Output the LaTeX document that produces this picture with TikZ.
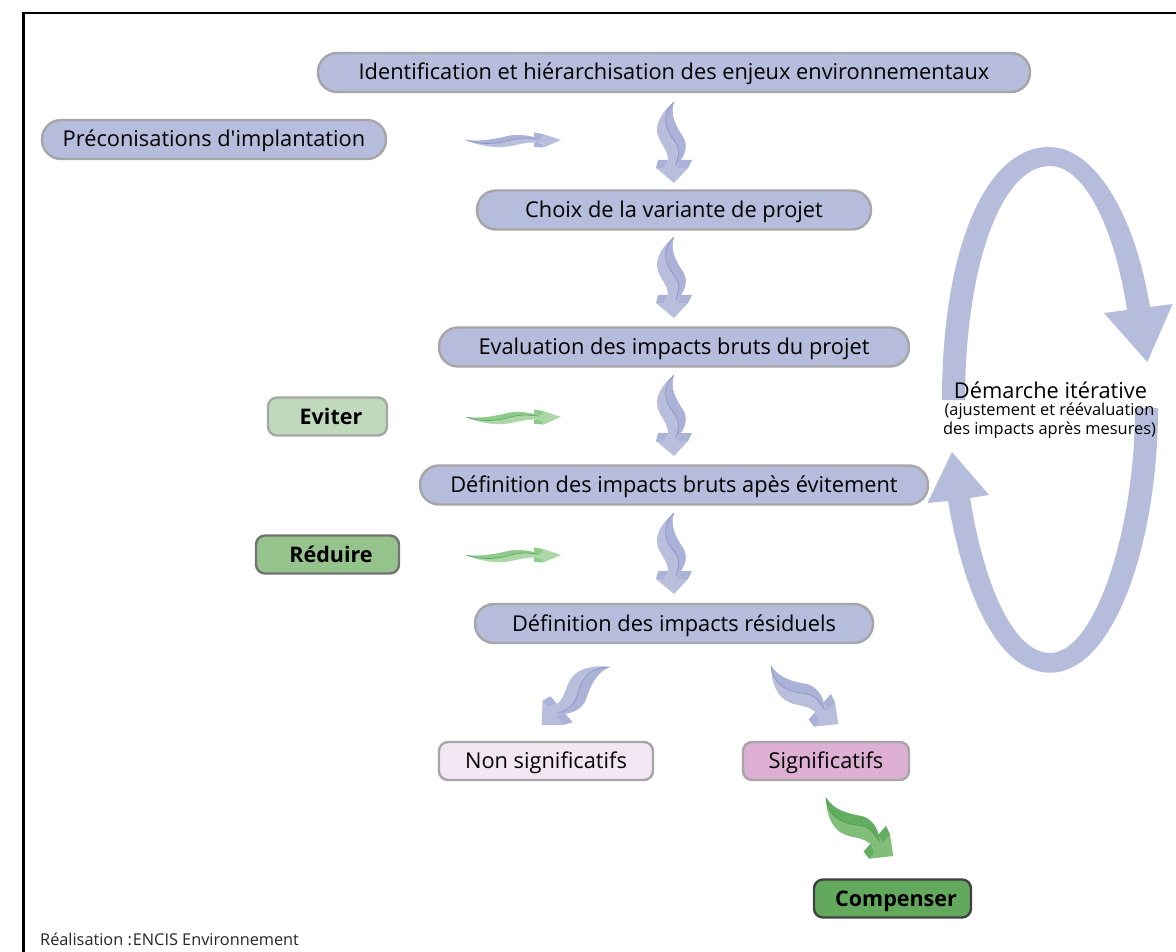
\documentclass[tikz,border=0pt]{standalone}
\usepackage{fontspec}
\setmainfont{Open Sans}[Ligatures=TeXOff]
\definecolor{boxblue}{HTML}{B6BCDC}
\definecolor{boxedge}{HTML}{A6A6A8}
\definecolor{evfill}{HTML}{C0D9BC}
\definecolor{rdfill}{HTML}{94C48C}
\definecolor{cpfill}{HTML}{62A95E}
\definecolor{nsfill}{HTML}{F3E7F3}
\definecolor{sgfill}{HTML}{DCAFD3}
\definecolor{bluebody}{HTML}{B9BEDD}\definecolor{blueband}{HTML}{ABB2D8}\definecolor{blueline}{HTML}{8790C2}\definecolor{bluehead}{HTML}{B9BEDD}
\definecolor{greenbody}{HTML}{ABD8A5}\definecolor{greenband}{HTML}{8CCB88}\definecolor{greenline}{HTML}{5FA070}\definecolor{greenhead}{HTML}{ABD8A5}
\definecolor{dgreenbody}{HTML}{80BE7A}\definecolor{dgreenband}{HTML}{62AD60}\definecolor{dgreenline}{HTML}{4F9A50}\definecolor{dgreenhead}{HTML}{80BE7A}
\tikzset{
  x=1pt,y=-1pt,
  boxbase/.style={draw=boxedge,line width=2.4pt,inner sep=0pt,text=black,text height=17pt,text depth=2pt,font=\fontsize{21.8}{25}\selectfont},
  pill/.style={boxbase,fill=boxblue,rounded corners=19pt,minimum height=39pt},
  tag/.style={boxbase,rounded corners=9pt,minimum height=38pt},
  strong/.style={font=\fontsize{21.5}{25}\selectfont\bfseries},
  note/.style={inner sep=0pt,text=black}
}
% #1 tip coordinate, #2 rotation, #3 xscale, #4 yscale, #5 palette
\newcommand{\wavyarrow}[5]{%
  \begin{scope}[shift={(#1)},rotate=#2,xscale=#3,yscale=#4]
    \fill[#5head] (-18,-15) -- (0,0) -- (14,-15) -- cycle;
    \fill[#5body] (0,-81) .. controls (-12,-72) and (-20,-58) .. (-16,-47)
       .. controls (-13,-38) and (-6,-33) .. (-6,-23) -- (-9,-14) -- (3,-14) -- (5,-21)
       .. controls (13,-30) and (13,-40) .. (9,-46)
       .. controls (3,-55) and (-5,-68) .. (0,-81) -- cycle;
    \fill[#5band] (0,-81) .. controls (-9,-72) and (-11,-62) .. (-5,-50)
       .. controls (0,-42) and (7,-36) .. (4,-26) -- (2,-18) -- (5,-21)
       .. controls (13,-30) and (13,-40) .. (9,-46)
       .. controls (3,-55) and (-5,-68) .. (0,-81) -- cycle;
    \draw[#5line,line width=.6pt] (0,-81) .. controls (-9,-72) and (-11,-62) .. (-5,-50)
       .. controls (0,-42) and (7,-36) .. (4,-26) -- (2,-18);
    \fill[#5band] (-16,-23) -- (-6,-23) -- (-9,-15) -- (-18,-15) -- cycle;
    \fill[#5band] (6,-23) -- (18,-23) -- (14,-15) -- (3,-15) -- cycle;
  \end{scope}}
\begin{document}
\begin{tikzpicture}
\useasboundingbox (0,0) rectangle (1176,952);
\fill[white] (0,0) rectangle (1176,952);
\draw[black,line width=2.6pt] (23.5,952) -- (23.5,13) -- (1176,13);

% iterative loop
\fill[boxblue] (942,400) .. controls (942,250) and (985,147) .. (1049,147)
   .. controls (1095,147) and (1135,215) .. (1150,307) -- (1172.5,304) -- (1147.3,362) -- (1104,313) -- (1127,310)
   .. controls (1115,230) and (1085,166) .. (1050,166)
   .. controls (1000,166) and (965,270) .. (965,400) -- cycle;
\fill[boxblue] (1158,408) .. controls (1158,540) and (1115,672.7) .. (1050,672.7)
   .. controls (1000,672.7) and (965,600) .. (948,501) -- (927.5,503) -- (952,452) -- (989,495) -- (970,498)
   .. controls (985,590) and (1015,653) .. (1050,653)
   .. controls (1095,653) and (1135,530) .. (1135,408) -- cycle;

% boxes
\node[pill,minimum width=712pt] (enjeux) at (674,72.5) {Identification et hiérarchisation des enjeux environnementaux};
\node[pill,minimum width=344pt] (precon) at (214,139.5) {Préconisations d'implantation};
\node[pill,minimum width=394pt] (choix) at (674,210) {Choix de la variante de projet};
\node[pill,minimum width=470pt] (bruts) at (674,347) {Evaluation des impacts bruts du projet};
\node[pill,minimum width=508pt] (apres) at (674,485) {Définition des impacts bruts apès évitement};
\node[pill,minimum width=398pt] (resid) at (674,623.5) {Définition des impacts résiduels};
\node[tag,strong,fill=evfill,minimum width=119pt] (eviter) at (327.5,416.5) {\hspace*{7pt}Eviter};
\node[tag,strong,fill=rdfill,draw=black!55,minimum width=143pt] (reduire) at (327.5,554.5) {\hspace*{7pt}Réduire};
\node[tag,fill=nsfill,minimum width=214pt] (nonsig) at (546,761) {Non significatifs};
\node[tag,fill=sgfill,minimum width=166pt] (sig) at (826,761) {Significatifs};
\node[tag,strong,fill=cpfill,draw=black!75,minimum width=157pt] (comp) at (892.5,898.5) {\hspace*{7pt}Compenser};

% curved arrows
\wavyarrow{674,183}{0}{1}{1}{blue}
\wavyarrow{674,318}{0}{1}{1}{blue}
\wavyarrow{674,456}{0}{1}{1}{blue}
\wavyarrow{674,594}{0}{1}{1}{blue}
\wavyarrow{561,140}{90}{.42}{1.17}{blue}
\wavyarrow{561,417}{90}{.42}{1.17}{green}
\wavyarrow{561,555}{90}{.42}{1.17}{green}
\wavyarrow{541.7,725}{-49.5}{1}{1.1}{blue}
\wavyarrow{838.3,724}{49}{1}{1.1}{blue}
\wavyarrow{893.3,856}{49}{1}{1.1}{dgreen}

% texts
\node[note,font=\fontsize{21.8}{25}\selectfont] (demarche) at (1050.5,390) {Démarche itérative};
\node[note,font=\fontsize{16.4}{19}\selectfont,align=center] (ajust) at (1049.5,421) {(ajustement et réévaluation\\des impacts après mesures)};
\node[note,font=\fontsize{16.3}{19}\selectfont,anchor=west,text=black!85] (credit) at (40,939) {Réalisation :\hspace{1pt}ENCIS Environnement};
\end{tikzpicture}
\end{document}
